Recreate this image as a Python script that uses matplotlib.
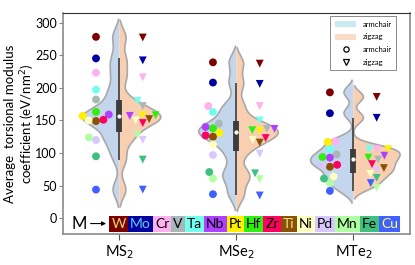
import numpy as np
import matplotlib
matplotlib.use('Agg')
import matplotlib.pyplot as plt
from matplotlib.patches import Rectangle, Patch
from matplotlib.lines import Line2D

plt.rcParams['font.family'] = ['Lato', 'DejaVu Sans']

materials = ['MS$_2$', 'MSe$_2$', 'MTe$_2$']
metals = ['W', 'Mo', 'Cr', 'V', 'Ta', 'Nb', 'Pt', 'Hf', 'Zr', 'Ti', 'Ni', 'Pd', 'Mn', 'Fe', 'Cu']
metal_colors = ['#7b0000', '#0000a0', '#ffb0f0', '#a8b8b8', '#70fff0', '#b040ff', '#fff000', '#30ee10',
                '#ff0060', '#8b5000', '#ffffc0', '#d8c8ff', '#b0ffa0', '#40c080', '#4060ff']
label_colors = ['#e0dc70', '#60d0f0', 'black', 'black', 'black', 'black', 'black', 'black',
                'black', '#f0e090', 'black', 'black', 'black', 'black', '#ffff70']

# armchair / zigzag values, same order as metals
ms2_arm = [278, 245, 223, 182, 197, 159, 157, 163, 151, 149, 150, 120, 124, 95, 44]
ms2_zig = [277, 242, 216, 172, 180, 157, 158, 158, 146, 152, 150, 120, 128, 90, 44]
mse2_arm = [239, 208, 172, 145, 163, 140, 131, 138, 127, 125, 113, 97, 61, 71, 37]
mse2_zig = [237, 206, 172, 137, 150, 137, 134, 135, 123, 116, 120, 99, 60, 69, 35]
mte2_arm = [193, 161, 118, 98, 106, 93, 117, 94, 82, 79, 64, 81, 54, 61, 42]
mte2_zig = [186, 154, 106, 90, 106, 96, 106, 93, 83, 77, 68, 74, 47, 62, 54]

arm = [ms2_arm, mse2_arm, mte2_arm]
zig = [ms2_zig, mse2_zig, mte2_zig]

blue = '#c3d6ee'
orange = '#f8cfb1'

fig = plt.figure(figsize=(4.15, 2.65), dpi=100)
ax = fig.add_axes([0.151, 0.117, 0.837, 0.835])
ax.set_xlim(-0.485, 2.485)
ax.set_ylim(-24, 315)


def kde(data, grid, factor=0.23):
    data = np.asarray(data, float)
    bw = factor * np.std(data, ddof=1)
    z = (grid[:, None] - data[None, :]) / bw
    return np.exp(-0.5 * z ** 2).sum(1) / (len(data) * bw * np.sqrt(2 * np.pi)), bw


# violins
curves = []
for i in range(3):
    for side, d in ((-1, arm[i]), (1, zig[i])):
        d = np.asarray(d, float)
        bw = 0.23 * np.std(d, ddof=1)
        g = np.linspace(d.min() - 2 * bw, d.max() + 2 * bw, 300)
        dens, _ = kde(d, g)
        curves.append((i, side, g, dens))
dmax = max(c[3].max() for c in curves)
for i, side, g, dens in curves:
    w = dens / dmax * 0.4
    col = blue if side < 0 else orange
    ax.fill_betweenx(g, i, i + side * w, facecolor=col, edgecolor='none', zorder=1)
    ax.plot(i + side * w, g, color='#a8a8a8', lw=1.2, zorder=1.5)

# inner box over both halves
for i in range(3):
    d = np.concatenate([arm[i], zig[i]]).astype(float)
    q1, med, q3 = np.percentile(d, [25, 50, 75])
    lim = 1.5 * (q3 - q1)
    lo = d[d >= q1 - lim].min()
    hi = d[d <= q3 + lim].max()
    ax.plot([i, i], [lo, hi], color='#3c3c3c', lw=1.2, zorder=2, solid_capstyle='butt')
    ax.plot([i, i], [q1, q3], color='#3c3c3c', lw=4.2, zorder=2, solid_capstyle='butt')
    ax.scatter([i], [med], s=4, color='white', zorder=2.5)


# swarm points
def swarm(vals, d):
    ys = ax.transData.transform(np.column_stack([np.zeros(len(vals)), vals]))[:, 1]
    offs = np.zeros(len(vals))
    placed = []
    for k in np.argsort(vals, kind='stable'):
        y = ys[k]
        cands = [0.0]
        for py, px in placed:
            dy = abs(y - py)
            if dy < d:
                dx = np.sqrt(d * d - dy * dy)
                cands += [px - dx, px + dx]
        cands.sort(key=abs)
        for c in cands:
            if all((c - px) ** 2 + (y - py) ** 2 >= d * d - 1e-6 for py, px in placed):
                offs[k] = c
                break
        placed.append((y, offs[k]))
    return offs


pxu = ax.transData.transform([(1, 0)])[0, 0] - ax.transData.transform([(0, 0)])[0, 0]
for i in range(3):
    for side, d, mk in ((-1, arm[i], 'o'), (1, zig[i], 'v')):
        offs = swarm(np.asarray(d, float), 7.5) / pxu
        ax.scatter(i + side * 0.2 + offs, d, s=32, marker=mk, c=metal_colors,
                   edgecolors='none', zorder=3)

# metal colour strip
ybot, h, ymid = -20.5, 24.5, -8
x0, x1 = -0.085, 2.40
fig.canvas.draw()
r = fig.canvas.get_renderer()
texts, widths = [], []
for m, tc in zip(metals, label_colors):
    t = ax.text(0, ymid, m, ha='left', va='center', fontsize=10, color=tc, zorder=5)
    texts.append(t)
    widths.append(t.get_window_extent(r).width / pxu)
pad = ((x1 - x0) - sum(widths)) / len(metals) / 2
x = x0
for t, wdt, c in zip(texts, widths, metal_colors):
    ax.add_patch(Rectangle((x, ybot), wdt + 2 * pad, h, facecolor=c, edgecolor='none', zorder=4))
    t.set_x(x + pad)
    x += wdt + 2 * pad
ax.text(-0.345, ymid, 'M', ha='center', va='center', fontsize=12, zorder=5)
ax.annotate('', xy=(-0.09, ymid), xytext=(-0.27, ymid),
            arrowprops=dict(arrowstyle='-|>', color='black', lw=0.8, mutation_scale=6), zorder=5)

ax.set_xticks(range(3))
ax.set_xticklabels(materials, fontsize=10.5)
ax.set_yticks(range(0, 301, 50))
ax.tick_params(axis='y', labelsize=9, length=3, pad=1, color='#888888')
ax.tick_params(axis='x', length=4, pad=3, color='#555555')
ax.set_ylabel('Average  torsional modulus\ncoefficient (eV/nm$^2$)', fontsize=9.5, linespacing=1.15)
ax.yaxis.set_label_coords(-0.075, 0.5)
for s in ['left', 'right', 'bottom']:
    ax.spines[s].set_color('#8a8a8a')
    ax.spines[s].set_linewidth(1.2)
ax.spines['top'].set_color('#333333')

handles = [Patch(facecolor='#c8eaf2', edgecolor='none', label='armchair'),
           Patch(facecolor='#fadcc6', edgecolor='none', label='zigzag'),
           Line2D([], [], marker='o', ls='none', mfc='none', mec='black', ms=3.8, mew=0.9, label='armchair'),
           Line2D([], [], marker='v', ls='none', mfc='none', mec='black', ms=3.8, mew=0.9, label='zigzag')]
leg = ax.legend(handles=handles, loc='upper right', bbox_to_anchor=(0.96, 0.985), fontsize=5.5,
                frameon=True, fancybox=False, edgecolor='#555555', handlelength=2.8,
                handleheight=0.8, handletextpad=0.8, labelspacing=0.75, borderpad=0.6,
                borderaxespad=0)
leg.get_frame().set_linewidth(0.6)

fig.savefig('out.png', dpi=100)
